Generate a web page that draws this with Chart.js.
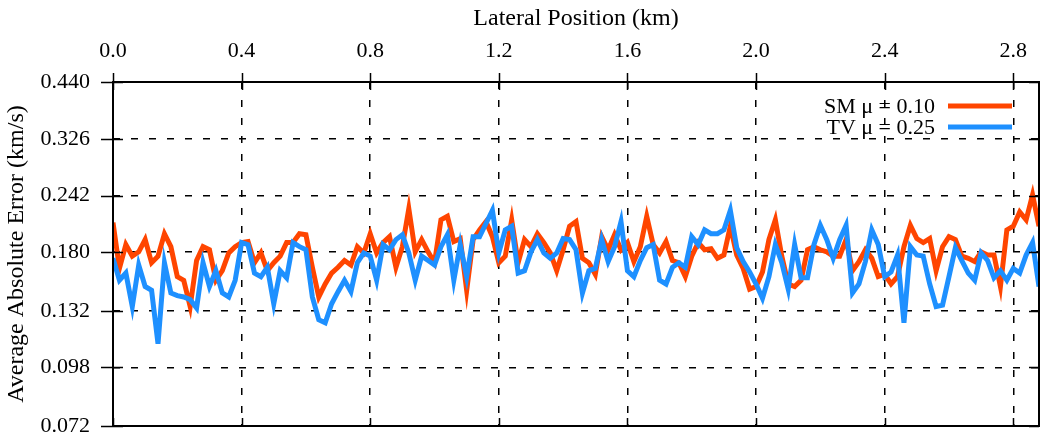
<!DOCTYPE html>
<html lang="en">
<head>
<meta charset="UTF-8">
<title>Average Absolute Error</title>
<script src="https://cdn.jsdelivr.net/npm/chart.js"></script>
<style>
  html, body { margin: 0; padding: 0; background: #fff; }
  #wrap { width: 1043px; height: 439px; }
</style>
</head>
<body>
<div id="wrap"><canvas id="myChart"></canvas></div>
<script>
// lateral position (km), sampled every 0.02 km
const positions = [
  0.00, 0.02, 0.04, 0.06, 0.08, 0.10, 0.12, 0.14, 0.16, 0.18,
  0.20, 0.22, 0.24, 0.26, 0.28, 0.30, 0.32, 0.34, 0.36, 0.38,
  0.40, 0.42, 0.44, 0.46, 0.48, 0.50, 0.52, 0.54, 0.56, 0.58,
  0.60, 0.62, 0.64, 0.66, 0.68, 0.70, 0.72, 0.74, 0.76, 0.78,
  0.80, 0.82, 0.84, 0.86, 0.88, 0.90, 0.92, 0.94, 0.96, 0.98,
  1.00, 1.02, 1.04, 1.06, 1.08, 1.10, 1.12, 1.14, 1.16, 1.18,
  1.20, 1.22, 1.24, 1.26, 1.28, 1.30, 1.32, 1.34, 1.36, 1.38,
  1.40, 1.42, 1.44, 1.46, 1.48, 1.50, 1.52, 1.54, 1.56, 1.58,
  1.60, 1.62, 1.64, 1.66, 1.68, 1.70, 1.72, 1.74, 1.76, 1.78,
  1.80, 1.82, 1.84, 1.86, 1.88, 1.90, 1.92, 1.94, 1.96, 1.98,
  2.00, 2.02, 2.04, 2.06, 2.08, 2.10, 2.12, 2.14, 2.16, 2.18,
  2.20, 2.22, 2.24, 2.26, 2.28, 2.30, 2.32, 2.34, 2.36, 2.38,
  2.40, 2.42, 2.44, 2.46, 2.48, 2.50, 2.52, 2.54, 2.56, 2.58,
  2.60, 2.62, 2.64, 2.66, 2.68, 2.70, 2.72, 2.74, 2.76, 2.78,
  2.80, 2.82, 2.84, 2.86, 2.88
]

// SM mu = 0.10
const smValues = [
  0.210, 0.165, 0.187, 0.176, 0.180, 0.192, 0.170, 0.176, 0.198, 0.185,
  0.158, 0.155, 0.135, 0.172, 0.185, 0.182, 0.155, 0.163, 0.179, 0.185,
  0.189, 0.190, 0.170, 0.179, 0.163, 0.170, 0.176, 0.189, 0.189, 0.198,
  0.197, 0.166, 0.142, 0.152, 0.161, 0.166, 0.172, 0.168, 0.185, 0.179,
  0.198, 0.179, 0.189, 0.195, 0.166, 0.185, 0.226, 0.180, 0.192, 0.180,
  0.170, 0.213, 0.217, 0.190, 0.193, 0.147, 0.192, 0.202, 0.211, 0.195,
  0.170, 0.176, 0.213, 0.170, 0.192, 0.185, 0.198, 0.189, 0.179, 0.163,
  0.182, 0.206, 0.211, 0.174, 0.170, 0.160, 0.195, 0.182, 0.197, 0.182,
  0.189, 0.171, 0.185, 0.217, 0.187, 0.179, 0.190, 0.172, 0.170, 0.158,
  0.176, 0.189, 0.182, 0.183, 0.174, 0.177, 0.206, 0.177, 0.165, 0.148,
  0.150, 0.162, 0.192, 0.213, 0.176, 0.152, 0.150, 0.155, 0.182, 0.185,
  0.182, 0.180, 0.176, 0.176, 0.192, 0.163, 0.171, 0.182, 0.174, 0.158,
  0.160, 0.152, 0.158, 0.185, 0.207, 0.193, 0.189, 0.193, 0.163, 0.185,
  0.195, 0.192, 0.176, 0.174, 0.171, 0.180, 0.177, 0.177, 0.150, 0.202,
  0.206, 0.222, 0.213, 0.243, 0.206
]

// TV mu = 0.25
const tvValues = [
  0.174, 0.155, 0.161, 0.135, 0.168, 0.150, 0.147, 0.111, 0.170, 0.145,
  0.143, 0.142, 0.140, 0.134, 0.170, 0.150, 0.163, 0.145, 0.142, 0.155,
  0.189, 0.187, 0.161, 0.158, 0.166, 0.137, 0.163, 0.157, 0.189, 0.185,
  0.182, 0.142, 0.126, 0.124, 0.137, 0.146, 0.155, 0.146, 0.170, 0.179,
  0.176, 0.155, 0.187, 0.182, 0.192, 0.197, 0.179, 0.155, 0.176, 0.172,
  0.168, 0.185, 0.197, 0.155, 0.187, 0.158, 0.195, 0.195, 0.209, 0.224,
  0.179, 0.202, 0.206, 0.161, 0.163, 0.180, 0.192, 0.179, 0.174, 0.179,
  0.193, 0.192, 0.182, 0.145, 0.163, 0.165, 0.192, 0.171, 0.185, 0.211,
  0.163, 0.158, 0.172, 0.184, 0.187, 0.155, 0.152, 0.166, 0.170, 0.166,
  0.195, 0.187, 0.202, 0.198, 0.198, 0.202, 0.224, 0.184, 0.171, 0.162,
  0.152, 0.141, 0.158, 0.187, 0.170, 0.148, 0.187, 0.157, 0.157, 0.187,
  0.207, 0.192, 0.174, 0.192, 0.207, 0.145, 0.152, 0.171, 0.202, 0.187,
  0.158, 0.162, 0.177, 0.124, 0.185, 0.177, 0.176, 0.152, 0.135, 0.136,
  0.158, 0.184, 0.172, 0.161, 0.155, 0.179, 0.172, 0.157, 0.163, 0.155,
  0.165, 0.161, 0.177, 0.189, 0.150
]

const xTicks = [0.0, 0.4, 0.8, 1.2, 1.6, 2.0, 2.4, 2.8]
const yTicks = [0.072, 0.098, 0.132, 0.180, 0.242, 0.326, 0.440]
const seriesNames = ['SM μ = 0.10', 'TV μ = 0.25']
const seriesColors = ['#ff4500', '#1e90ff']

const serif = "'Liberation Serif', 'Times New Roman', serif"
const font = { family: serif, size: 22 }
const titleFont = { family: serif, size: 24 }

// border, in/out tics and the key, gnuplot style
const framePlugin = {
    id: 'frame',
    afterDatasetsDraw(chart) {
        const { ctx, chartArea: a, scales } = chart
        ctx.save()
        ctx.strokeStyle = '#000'
        ctx.lineWidth = 2
        ctx.setLineDash([])
        ctx.strokeRect(a.left, a.top, a.right - a.left, a.bottom - a.top)

        ctx.beginPath()
        xTicks.forEach(v => {
            const x = Math.round(scales.x.getPixelForValue(v)) + 0.5
            ctx.moveTo(x, a.top - 9); ctx.lineTo(x, a.top + 8)
            ctx.moveTo(x, a.bottom); ctx.lineTo(x, a.bottom - 8)
        })
        yTicks.forEach(v => {
            const y = Math.round(scales.y.getPixelForValue(v)) + 0.5
            ctx.moveTo(a.left - 12, y); ctx.lineTo(a.left + 10, y)
            ctx.moveTo(a.right, y); ctx.lineTo(a.right - 10, y)
        })
        ctx.lineWidth = 1.5
        ctx.stroke()

        // key
        ctx.font = `${font.size}px ${serif}`
        ctx.textAlign = 'right'
        ctx.textBaseline = 'middle'
        ctx.fillStyle = '#000'
        seriesNames.forEach((name, i) => {
            const y = 106 + i * 21
            ctx.fillText(name, 935, y + 1)
            ctx.beginPath()
            ctx.strokeStyle = seriesColors[i]
            ctx.lineWidth = 5
            ctx.moveTo(948, y); ctx.lineTo(1012, y)
            ctx.stroke()
        })
        ctx.restore()
    }
}

const chart = new Chart(
    document.getElementById('myChart'),
    {
        type: 'line',
        data: {
            datasets: [
                {
                    label: seriesNames[0],
                    data: positions.map((p, i) => ({ x: p, y: smValues[i] })),
                    borderColor: seriesColors[0],
                    borderWidth: 5,
                    pointRadius: 0,
                    tension: 0,
                    order: 1
                },
                {
                    label: seriesNames[1],
                    data: positions.map((p, i) => ({ x: p, y: tvValues[i] })),
                    borderColor: seriesColors[1],
                    borderWidth: 5,
                    pointRadius: 0,
                    tension: 0,
                    order: 0
                }
            ]
        },
        options: {
            responsive: true,
            maintainAspectRatio: false,
            animation: false,
            layout: { padding: { left: 0, right: 4, top: 0, bottom: 13 } },
            plugins: {
                legend: { display: false },
                tooltip: { enabled: false }
            },
            scales: {
                x: {
                    type: 'linear',
                    position: 'top',
                    min: 0,
                    max: 2.88,
                    afterBuildTicks: s => { s.ticks = xTicks.map(v => ({ value: v })) },
                    afterFit: s => { s.height = 82; s.paddingLeft = 0; s.paddingRight = 0 },
                    title: {
                        display: true,
                        text: 'Lateral Position (km)',
                        font: titleFont,
                        color: '#000',
                        padding: { top: 4, bottom: 0 }
                    },
                    ticks: {
                        font: font,
                        color: '#000',
                        padding: 18,
                        maxRotation: 0,
                        autoSkip: false,
                        callback: v => v.toFixed(1)
                    },
                    grid: { color: '#000', lineWidth: 1.5, drawTicks: false },
                    border: { display: false, dash: [7, 11] }
                },
                y: {
                    type: 'logarithmic',
                    min: 0.072,
                    max: 0.44,
                    afterBuildTicks: s => { s.ticks = yTicks.map(v => ({ value: v })) },
                    afterFit: s => { s.width = 113; s.paddingTop = 0; s.paddingBottom = 0 },
                    title: {
                        display: true,
                        text: 'Average Absolute Error (km/s)',
                        font: titleFont,
                        color: '#000',
                        padding: { top: 2, bottom: 0 }
                    },
                    ticks: {
                        font: font,
                        color: '#000',
                        padding: 23,
                        autoSkip: false,
                        callback: v => v.toFixed(3)
                    },
                    grid: { color: '#000', lineWidth: 1.5, drawTicks: false },
                    border: { display: false, dash: [7, 11] }
                }
            }
        },
        plugins: [framePlugin]
    })
</script>
</body>
</html>
